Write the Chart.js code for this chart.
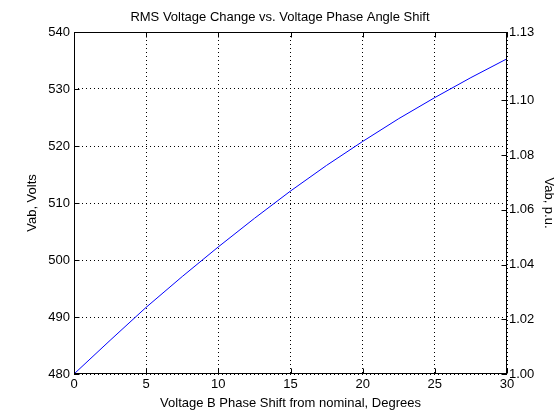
<!DOCTYPE html>
<html>
<head>
<meta charset="utf-8">
<title>RMS Voltage Change vs. Voltage Phase Angle Shift</title>
<script src="https://cdn.jsdelivr.net/npm/chart.js@4/dist/chart.umd.min.js"></script>
<style>
	html, body { margin: 0; padding: 0; background: #fff; }
	#plot { display: block; }
</style>
</head>
<body>
<canvas id="plot" width="560" height="420"></canvas>
<script>
// Values
const phaseShiftDeg = [0, 2.5, 5, 7.5, 10, 12.5, 15, 17.5, 20, 22.5, 25, 27.5, 30];
const vabVolts = [480.0, 485.9, 491.7, 497.1, 502.3, 507.3, 512.1, 516.6, 520.8, 524.8, 528.5, 532.0, 535.3];

// Axis ticks
const degTicks = [0, 5, 10, 15, 20, 25, 30];
const voltTicks = [480, 490, 500, 510, 520, 530, 540];
const puTicks = [1.00, 1.02, 1.04, 1.06, 1.08, 1.10, 1.125];
const puTickLabels = ['1.00', '1.02', '1.04', '1.06', '1.08', '1.10', '1.13'];

const FONT = { family: '"Liberation Sans", Arial, sans-serif', size: 13 };

/**
 * Replace the generated ticks with a fixed list
 */
function fixedTicks(values) {
	return function(scale) {
		scale.ticks = values.map(function(v) { return { value: v }; });
	};
}

/**
 * Fix an axis box size so the plot area lands where the original does
 */
function fixSize(prop, size) {
	return function(scale) { scale[prop] = size; };
}

/**
 * MATLAB style frame: solid box and short inward tick marks
 */
const matlabFrame = {
	id: 'matlabFrame',
	afterDraw: function(chart) {
		const ctx = chart.ctx;
		const a = chart.chartArea;
		const len = 5;
		const x = chart.scales.x, y = chart.scales.y, y2 = chart.scales.y2;
		const l = Math.round(a.left) + 0.5, r = Math.round(a.right) - 0.5;
		const t = Math.round(a.top) + 0.5, b = Math.round(a.bottom) - 0.5;

		ctx.save();
		ctx.strokeStyle = '#000';
		ctx.lineWidth = 1;
		ctx.setLineDash([]);
		ctx.beginPath();

		degTicks.forEach(function(v) {
			const px = Math.round(x.getPixelForValue(v)) + 0.5;
			ctx.moveTo(px, b); ctx.lineTo(px, b - len);
			ctx.moveTo(px, t); ctx.lineTo(px, t + len);
		});
		voltTicks.forEach(function(v) {
			const py = Math.round(y.getPixelForValue(v)) + 0.5;
			ctx.moveTo(l, py); ctx.lineTo(l + len, py);
		});
		puTicks.forEach(function(v) {
			const py = Math.round(y2.getPixelForValue(v)) + 0.5;
			ctx.moveTo(r, py); ctx.lineTo(r - len, py);
		});
		ctx.stroke();

		ctx.strokeRect(l, t, r - l, b - t);
		ctx.restore();
	}
};

Chart.defaults.color = '#000';
Chart.defaults.font.family = FONT.family;
Chart.defaults.font.size = FONT.size;

const gridDots = {
	color: '#000',
	lineWidth: 1,
	drawTicks: false
};

new Chart(document.getElementById('plot').getContext('2d'), {
	type: 'line',
	data: {
		datasets: [{
			label: 'Vab',
			data: phaseShiftDeg.map(function(d, i) { return { x: d, y: vabVolts[i] }; }),
			borderColor: '#0000ff',
			borderWidth: 1,
			pointRadius: 0,
			tension: 0,
			fill: false,
			yAxisID: 'y'
		}]
	},
	options: {
		responsive: false,
		animation: false,
		devicePixelRatio: 1,
		layout: { padding: 0 },
		plugins: {
			legend: { display: false },
			tooltip: { enabled: false },
			title: {
				display: true,
				text: 'RMS Voltage Change vs. Voltage Phase Angle Shift',
				color: '#000',
				font: { size: 13, weight: 'normal' },
				padding: { top: 9.5, bottom: 6.9 }
			}
		},
		scales: {
			x: {
				type: 'linear',
				min: 0,
				max: 30,
				afterBuildTicks: fixedTicks(degTicks),
				afterFit: fixSize('height', 46),
				grid: gridDots,
				border: { display: false, dash: [1, 3] },
				ticks: { padding: 3, maxRotation: 0 },
				title: {
					display: true,
					text: 'Voltage B Phase Shift from nominal, Degrees',
					padding: { top: 0, bottom: 9 }
				}
			},
			y: {
				type: 'linear',
				position: 'left',
				min: 480,
				max: 540,
				afterBuildTicks: fixedTicks(voltTicks),
				afterFit: fixSize('width', 74),
				grid: gridDots,
				border: { display: false, dash: [1, 3] },
				ticks: { padding: 4 },
				title: {
					display: true,
					text: 'Vab, Volts',
					padding: { top: 25, bottom: 0 }
				}
			},
			y2: {
				type: 'linear',
				position: 'right',
				min: 1.0,
				max: 1.125,
				afterBuildTicks: fixedTicks(puTicks),
				afterFit: fixSize('width', 53),
				grid: { display: false, drawTicks: false },
				border: { display: false },
				ticks: {
					padding: 2,
					callback: function(value, index) { return puTickLabels[index]; }
				},
				title: {
					display: true,
					text: 'Vab, p.u.',
					padding: { top: 4, bottom: 0 }
				}
			}
		}
	},
	plugins: [matlabFrame]
});
</script>
</body>
</html>
